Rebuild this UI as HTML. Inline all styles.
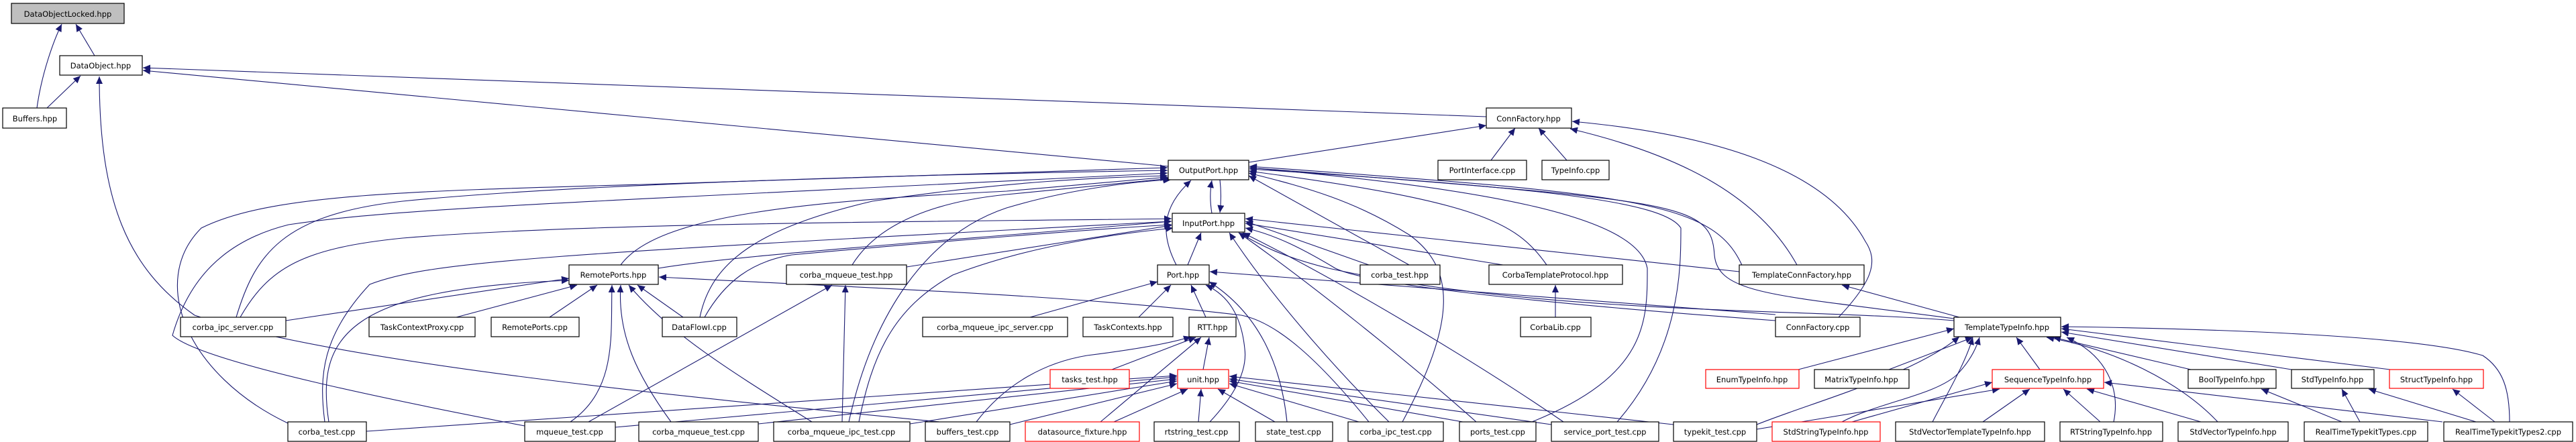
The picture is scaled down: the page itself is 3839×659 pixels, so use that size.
<!DOCTYPE html>
<html><head><meta charset="utf-8"><style>
html,body{margin:0;padding:0;background:#fff;}
svg{display:block;}
text{font-family:"DejaVu Sans","Liberation Sans",sans-serif;font-size:11.5px;fill:#000;text-anchor:middle;}
.e{fill:none;stroke:#191970;stroke-width:1.1;marker-end:url(#a);}
rect{fill:#fff;stroke:#000;stroke-width:1.2;}
rect.r{stroke:#f00;}
rect.g{fill:#bfbfbf;}
</style></head><body>
<svg width="3839" height="659" viewBox="0 0 3839 659" xmlns="http://www.w3.org/2000/svg">
<defs><marker id="a" markerUnits="userSpaceOnUse" markerWidth="12" markerHeight="10" refX="11" refY="5" orient="auto"><path d="M0,0 L11,5 L0,10 z" fill="#191970"/></marker></defs>
<g>
<path class="e" d="M55 161 C62 110 80 60 92 36"/>
<path class="e" d="M141 83 L113 36"/>
<path class="e" d="M70 161 L120 113"/>
<path class="e" d="M2215 174 L213 101"/>
<path class="e" d="M1741 248 L213 105"/>
<path class="e" d="M1400 629 C1000 590 500 540 290 470 C190 400 148 300 148 114"/>
<path class="e" d="M1861 242 L2215 187"/>
<path class="e" d="M2222 239 L2258 191"/>
<path class="e" d="M2335 239 L2293 191"/>
<path class="e" d="M2678 395 C2620 290 2500 230 2340 192"/>
<path class="e" d="M2740 473 C2790 420 2800 390 2780 360 C2720 250 2550 200 2343 181"/>
<path class="e" d="M1806 318 C1803 300 1803 285 1806 269"/>
<path class="e" d="M1818 268 C1820 285 1820 300 1818 317"/>
<path class="e" d="M1753 395 C1730 350 1730 310 1775 269"/>
<path class="e" d="M1770 395 L1790 347"/>
<path class="e" d="M1535 473 L1725 420"/>
<path class="e" d="M1697 473 L1745 425"/>
<path class="e" d="M1797 473 L1775 425"/>
<path class="e" d="M1803 629 C1830 600 1860 560 1855 520 C1850 470 1830 440 1797 425"/>
<path class="e" d="M1918 629 C1910 550 1880 470 1802 420"/>
<path class="e" d="M2646 469 L1803 405"/>
<path class="e" d="M1657 551 L1782 503"/>
<path class="e" d="M1793 551 L1802 503"/>
<path class="e" d="M1640 629 L1790 503"/>
<path class="e" d="M1455 629 C1500 570 1560 540 1620 530 C1700 520 1750 510 1775 502"/>
<path class="e" d="M546 643 L1754 560"/>
<path class="e" d="M917 637 L1754 562"/>
<path class="e" d="M1130 632 L1754 565"/>
<path class="e" d="M1356 632 L1754 568"/>
<path class="e" d="M1505 633 L1754 572"/>
<path class="e" d="M1660 629 L1770 580"/>
<path class="e" d="M1786 629 L1790 580"/>
<path class="e" d="M1900 629 L1815 580"/>
<path class="e" d="M2025 629 L1832 572"/>
<path class="e" d="M2180 629 L1832 568"/>
<path class="e" d="M2312 633 L1832 565"/>
<path class="e" d="M2494 633 L1832 561"/>
<path class="e" d="M352 473 C380 380 420 320 600 300 C900 270 1500 258 1740 254"/>
<path class="e" d="M358 473 C400 400 450 370 600 355 C900 330 1500 330 1746 326"/>
<path class="e" d="M429 631 C280 560 220 420 300 340 C400 290 600 285 960 275 L1740 250"/>
<path class="e" d="M782 635 C600 600 300 540 257 500 C280 420 330 360 430 335 C600 310 800 305 1740 258"/>
<path class="e" d="M484 629 C475 560 480 500 551 424 C640 390 800 380 1746 330"/>
<path class="e" d="M1043 473 C1060 390 1130 340 1300 300 C1500 270 1650 264 1740 262"/>
<path class="e" d="M1050 473 C1080 420 1120 390 1180 380 C1400 360 1650 340 1746 335"/>
<path class="e" d="M1270 395 C1310 330 1400 300 1500 290 C1600 280 1700 270 1744 266"/>
<path class="e" d="M1351 398 L1746 336"/>
<path class="e" d="M1265 629 C1300 470 1380 350 1500 310 C1600 280 1700 270 1745 268"/>
<path class="e" d="M1280 629 C1300 530 1330 460 1420 410 C1550 360 1700 345 1748 340"/>
<path class="e" d="M2100 395 L1861 262"/>
<path class="e" d="M2305 395 C2260 330 2200 300 1861 255"/>
<path class="e" d="M2090 629 C2170 480 2170 400 2100 350 C2020 300 1950 280 1861 258"/>
<path class="e" d="M2283 629 C2455 560 2455 480 2455 400 C2440 320 2200 280 1862 250"/>
<path class="e" d="M2410 629 C2505 520 2505 400 2505 340 C2480 300 2300 280 1862 252"/>
<path class="e" d="M2600 405 C2560 300 2450 290 1862 248"/>
<path class="e" d="M2912 475 C2650 440 2560 440 2555 380 C2550 300 2500 300 1862 250"/>
<path class="e" d="M925 395 C980 320 1200 300 1500 285 L1740 264"/>
<path class="e" d="M981 400 C1100 380 1400 360 1746 330"/>
<path class="e" d="M2040 395 L1856 330"/>
<path class="e" d="M2240 395 L1856 333"/>
<path class="e" d="M2592 405 L1856 326"/>
<path class="e" d="M2912 478 C2700 460 2300 470 1980 400 C1900 380 1870 360 1846 347"/>
<path class="e" d="M2070 629 C2000 560 1900 450 1832 347"/>
<path class="e" d="M2200 629 C2100 540 1950 420 1846 347"/>
<path class="e" d="M2330 629 C2200 540 2000 420 1852 347"/>
<path class="e" d="M2646 478 C2400 460 2050 430 1990 400 C1940 370 1900 350 1856 340"/>
<path class="e" d="M426 478 L848 415"/>
<path class="e" d="M680 473 L860 425"/>
<path class="e" d="M819 473 L890 425"/>
<path class="e" d="M1018 473 L950 425"/>
<path class="e" d="M490 629 C470 500 520 430 848 418"/>
<path class="e" d="M1000 629 C950 560 920 500 925 425"/>
<path class="e" d="M1210 629 C1100 560 1000 500 937 425"/>
<path class="e" d="M850 629 C920 580 910 500 912 425"/>
<path class="e" d="M2040 629 C1960 530 1900 480 1850 470 C1600 440 1300 430 982 413"/>
<path class="e" d="M877 629 L1240 425"/>
<path class="e" d="M1255 629 L1260 425"/>
<path class="e" d="M2318 473 L2318 425"/>
<path class="e" d="M2920 473 L2745 425"/>
<path class="e" d="M2680 551 L2912 490"/>
<path class="e" d="M2815 551 L2940 503"/>
<path class="e" d="M3040 551 L3005 503"/>
<path class="e" d="M3265 551 L3060 503"/>
<path class="e" d="M3415 551 L3072 495"/>
<path class="e" d="M3562 551 L3072 490"/>
<path class="e" d="M3740 629 C3740 580 3730 550 3700 530 C3600 500 3300 490 3072 487"/>
<path class="e" d="M2745 629 C2800 600 2880 590 2915 560 C2935 540 2945 520 2950 503"/>
<path class="e" d="M2880 629 C2900 590 2930 540 2940 503"/>
<path class="e" d="M3150 629 C3160 580 3140 530 3080 503"/>
<path class="e" d="M3305 629 C3250 570 3150 520 3050 503"/>
<path class="e" d="M2618 633 C2700 600 2850 560 2920 502"/>
<path class="e" d="M2760 629 L2969 570"/>
<path class="e" d="M2955 629 L3025 580"/>
<path class="e" d="M3130 629 L3075 580"/>
<path class="e" d="M3280 629 L3110 580"/>
<path class="e" d="M3640 629 L3136 570"/>
<path class="e" d="M2618 640 L2980 580"/>
<path class="e" d="M3490 629 L3370 580"/>
<path class="e" d="M3517 629 L3490 580"/>
<path class="e" d="M3690 629 L3530 580"/>
<path class="e" d="M3718 629 L3655 580"/>
</g>
<g>
<rect class="g" x="17" y="5" width="168" height="30"/><text x="101" y="25">DataObjectLocked.hpp</text>
<rect x="89" y="83" width="123" height="29"/><text x="150" y="102">DataObject.hpp</text>
<rect x="4" y="161" width="95" height="30"/><text x="52" y="181">Buffers.hpp</text>
<rect x="2215" y="161" width="127" height="30"/><text x="2278" y="181">ConnFactory.hpp</text>
<rect x="1741" y="239" width="120" height="29"/><text x="1801" y="258">OutputPort.hpp</text>
<rect x="2143" y="239" width="132" height="29"/><text x="2209" y="258">PortInterface.cpp</text>
<rect x="2298" y="239" width="100" height="29"/><text x="2348" y="258">TypeInfo.cpp</text>
<rect x="1747" y="318" width="108" height="28"/><text x="1801" y="337">InputPort.hpp</text>
<rect x="848" y="395" width="133" height="29"/><text x="914" y="414">RemotePorts.hpp</text>
<rect x="1172" y="395" width="179" height="29"/><text x="1261" y="414">corba_mqueue_test.hpp</text>
<rect x="1725" y="395" width="77" height="29"/><text x="1763" y="414">Port.hpp</text>
<rect x="2027" y="395" width="119" height="29"/><text x="2086" y="414">corba_test.hpp</text>
<rect x="2219" y="395" width="199" height="29"/><text x="2318" y="414">CorbaTemplateProtocol.hpp</text>
<rect x="2592" y="395" width="186" height="29"/><text x="2685" y="414">TemplateConnFactory.hpp</text>
<rect x="269" y="473" width="157" height="29"/><text x="347" y="492">corba_ipc_server.cpp</text>
<rect x="550" y="473" width="158" height="29"/><text x="629" y="492">TaskContextProxy.cpp</text>
<rect x="732" y="473" width="131" height="29"/><text x="797" y="492">RemotePorts.cpp</text>
<rect x="987" y="473" width="111" height="29"/><text x="1042" y="492">DataFlowI.cpp</text>
<rect x="1375" y="473" width="216" height="29"/><text x="1483" y="492">corba_mqueue_ipc_server.cpp</text>
<rect x="1614" y="473" width="134" height="29"/><text x="1681" y="492">TaskContexts.hpp</text>
<rect x="1772" y="473" width="70" height="29"/><text x="1807" y="492">RTT.hpp</text>
<rect x="2266" y="473" width="105" height="29"/><text x="2318" y="492">CorbaLib.cpp</text>
<rect x="2646" y="473" width="126" height="29"/><text x="2709" y="492">ConnFactory.cpp</text>
<rect x="2912" y="473" width="159" height="29"/><text x="2991" y="492">TemplateTypeInfo.hpp</text>
<rect class="r" x="1565" y="551" width="118" height="28"/><text x="1624" y="570">tasks_test.hpp</text>
<rect class="r" x="1755" y="551" width="76" height="28"/><text x="1793" y="570">unit.hpp</text>
<rect class="r" x="2542" y="551" width="139" height="28"/><text x="2611" y="570">EnumTypeInfo.hpp</text>
<rect x="2704" y="551" width="141" height="28"/><text x="2774" y="570">MatrixTypeInfo.hpp</text>
<rect class="r" x="2969" y="551" width="166" height="28"/><text x="3052" y="570">SequenceTypeInfo.hpp</text>
<rect x="3261" y="551" width="131" height="28"/><text x="3326" y="570">BoolTypeInfo.hpp</text>
<rect x="3415" y="551" width="123" height="28"/><text x="3476" y="570">StdTypeInfo.hpp</text>
<rect class="r" x="3561" y="551" width="140" height="28"/><text x="3631" y="570">StructTypeInfo.hpp</text>
<rect x="429" y="629" width="117" height="29"/><text x="487" y="648">corba_test.cpp</text>
<rect x="782" y="629" width="135" height="29"/><text x="849" y="648">mqueue_test.cpp</text>
<rect x="952" y="629" width="178" height="29"/><text x="1041" y="648">corba_mqueue_test.cpp</text>
<rect x="1153" y="629" width="203" height="29"/><text x="1254" y="648">corba_mqueue_ipc_test.cpp</text>
<rect x="1379" y="629" width="126" height="29"/><text x="1442" y="648">buffers_test.cpp</text>
<rect class="r" x="1528" y="629" width="170" height="29"/><text x="1613" y="648">datasource_fixture.hpp</text>
<rect x="1720" y="629" width="127" height="29"/><text x="1783" y="648">rtstring_test.cpp</text>
<rect x="1871" y="629" width="115" height="29"/><text x="1928" y="648">state_test.cpp</text>
<rect x="2009" y="629" width="142" height="29"/><text x="2080" y="648">corba_ipc_test.cpp</text>
<rect x="2175" y="629" width="114" height="29"/><text x="2232" y="648">ports_test.cpp</text>
<rect x="2312" y="629" width="160" height="29"/><text x="2392" y="648">service_port_test.cpp</text>
<rect x="2494" y="629" width="124" height="29"/><text x="2556" y="648">typekit_test.cpp</text>
<rect class="r" x="2641" y="629" width="161" height="29"/><text x="2721" y="648">StdStringTypeInfo.hpp</text>
<rect x="2825" y="629" width="222" height="29"/><text x="2936" y="648">StdVectorTemplateTypeInfo.hpp</text>
<rect x="3070" y="629" width="153" height="29"/><text x="3146" y="648">RTStringTypeInfo.hpp</text>
<rect x="3246" y="629" width="164" height="29"/><text x="3328" y="648">StdVectorTypeInfo.hpp</text>
<rect x="3434" y="629" width="184" height="29"/><text x="3526" y="648">RealTimeTypekitTypes.cpp</text>
<rect x="3642" y="629" width="192" height="29"/><text x="3738" y="648">RealTimeTypekitTypes2.cpp</text>
</g>
</svg>
</body></html>
